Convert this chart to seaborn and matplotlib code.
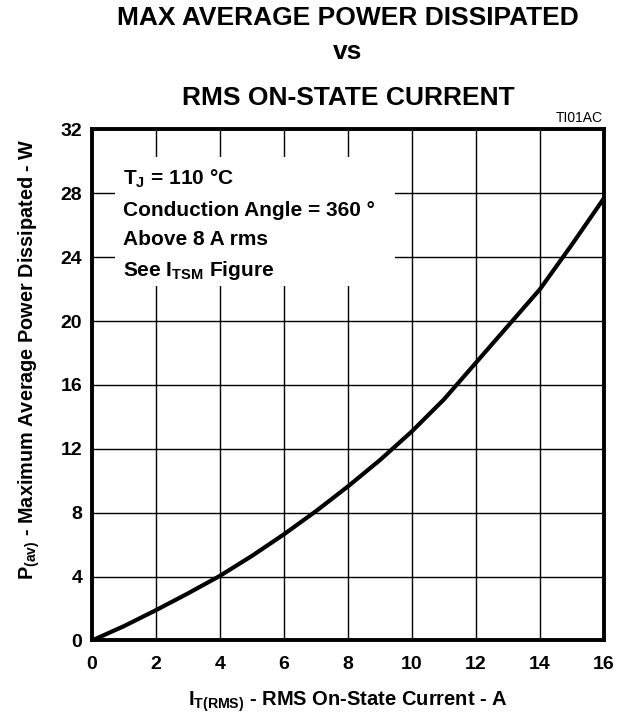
import matplotlib
matplotlib.use("Agg")
import matplotlib.pyplot as plt
import seaborn as sns
import pandas as pd
from matplotlib.patches import Rectangle

# Data
current_a = [0, 1, 2, 3, 4, 5, 6, 7, 8, 9, 10, 11, 12, 13, 14, 15, 16]
power_w = [0.0, 0.9, 1.9, 2.95, 4.05, 5.3, 6.65, 8.1, 9.65, 11.3, 13.1,
           15.1, 17.4, 19.7, 22.0, 24.8, 27.7]
x_ticks = [0, 2, 4, 6, 8, 10, 12, 14, 16]
y_ticks = [0, 4, 8, 12, 16, 20, 24, 28, 32]

sns.set_theme(style="white")
plt.rcParams['font.family'] = ['Liberation Sans', 'DejaVu Sans']
plt.rcParams['mathtext.fontset'] = 'custom'
plt.rcParams['mathtext.rm'] = 'Liberation Sans'
plt.rcParams['mathtext.bf'] = 'Liberation Sans:bold'
plt.rcParams['mathtext.it'] = 'Liberation Sans:italic'
plt.rcParams['text.color'] = 'black'
plt.rcParams['axes.labelcolor'] = 'black'

df = pd.DataFrame({"I": current_a, "P": power_w})

fig = plt.figure(figsize=(6.27, 7.17), dpi=100)
ax = fig.add_axes([0.1467, 0.1067, 0.8166, 0.7127])

sns.lineplot(data=df, x="I", y="P", ax=ax, color="black", linewidth=3.0, zorder=5)

ax.set_xlim(0, 16)
ax.set_ylim(0, 32)
ax.set_xticks(x_ticks)
ax.set_yticks(y_ticks)
ax.set_xticklabels([str(v) for v in x_ticks], fontsize=14, fontweight="bold")
ax.set_yticklabels([str(v) for v in y_ticks], fontsize=14, fontweight="bold")
ax.tick_params(axis="both", length=0, colors="black")
ax.tick_params(axis="x", pad=11)
ax.tick_params(axis="y", pad=7)
ax.grid(True, color="black", linewidth=1.0)
ax.set_axisbelow(True)
for s in ax.spines.values():
    s.set_visible(True)
    s.set_color("black")
    s.set_linewidth(2.8)

ax.set_xlabel(r"$\mathbf{I_{T(RMS)}}$ - RMS On-State Current - A",
              fontsize=14.5, fontweight="bold", labelpad=12)
ax.set_ylabel(r"$\mathbf{P_{(av)}}$ - Maximum Average Power Dissipated - W",
              fontsize=14.3, fontweight="bold", va="center")
ax.yaxis.set_label_coords(-0.122, 0.55)

# white box behind annotation
ax.add_patch(Rectangle((0.72, 22.2), 8.75, 8.1, facecolor="white",
                       edgecolor="none", zorder=2))
ann = [r"$\mathbf{T_J}$ = 110 °C", "Conduction Angle = 360 °",
       "Above 8 A rms", r"See $\mathbf{I_{TSM}}$ Figure"]
ys = [28.9, 26.9, 25.1, 23.2]
for t, yv in zip(ann, ys):
    ax.text(0.98, yv, t, fontsize=15, fontweight="bold", va="center",
            ha="left", zorder=6)

fig.text(0.555, 0.975, "MAX AVERAGE POWER DISSIPATED", ha="center",
         va="center", fontsize=19, fontweight="bold")
fig.text(0.555, 0.928, "vs", ha="center", va="center", fontsize=19,
         fontweight="bold")
fig.text(0.555, 0.864, "RMS ON-STATE CURRENT", ha="center", va="center",
         fontsize=19, fontweight="bold")
fig.text(0.962, 0.836, "TI01AC", ha="right", va="center", fontsize=10)

fig.savefig("out.png", dpi=100, facecolor="white")
